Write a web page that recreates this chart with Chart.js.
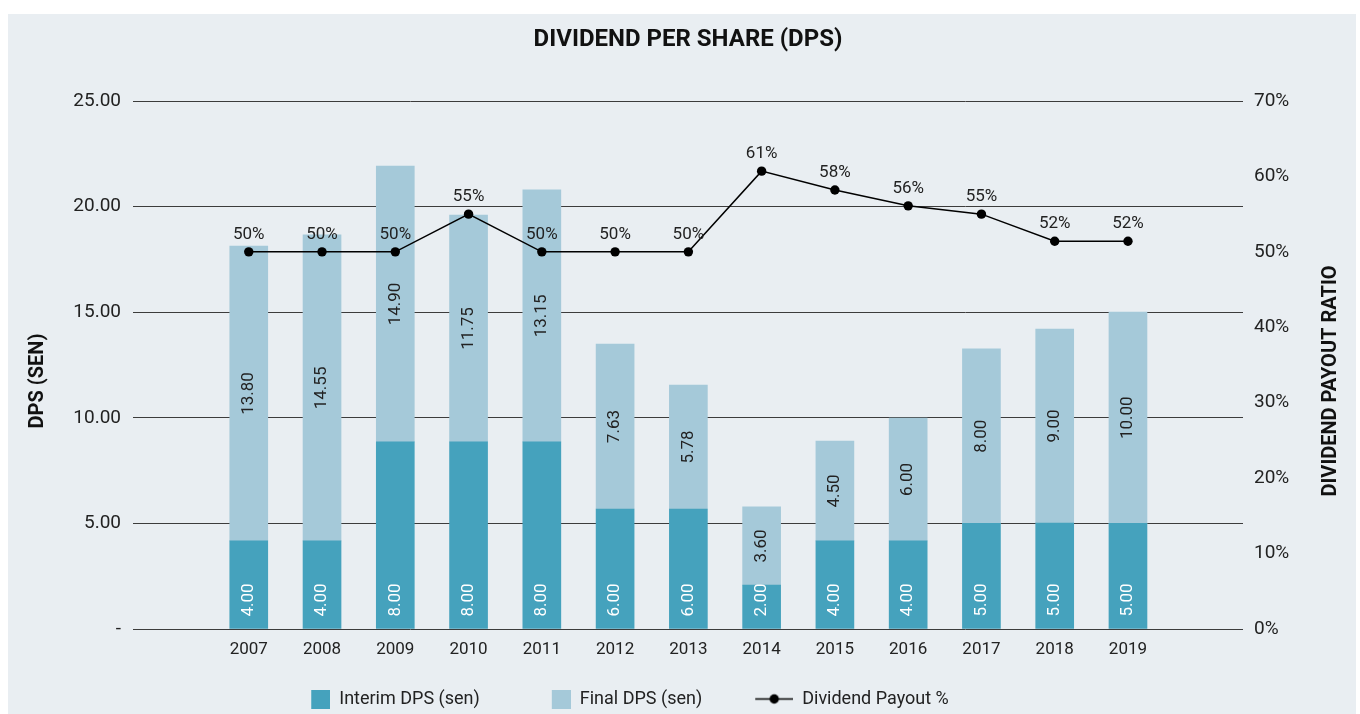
<!DOCTYPE html>
<html>
<head>
<meta charset="utf-8">
<title>Dividend per share (DPS)</title>
<script src="https://cdn.jsdelivr.net/npm/chart.js@4.4.0/dist/chart.umd.min.js"></script>
<style>
  html, body { margin: 0; padding: 0; background: #fff; overflow: hidden; }
  #panel { position: absolute; left: 8px; top: 14px; width: 1348px; height: 700px; background: #e9eef2; }
  #dpsChart { position: absolute; left: 8px; top: 14px; }
</style>
</head>
<body>
<div id="panel"></div>
<canvas id="dpsChart" width="1360" height="704"></canvas>
<script>
// --- Data (bar heights; printed labels kept separately) ---
const years = [2007, 2008, 2009, 2010, 2011, 2012, 2013, 2014, 2015, 2016, 2017, 2018, 2019];
const interimDps = [4.17, 4.17, 8.86, 8.86, 8.86, 5.68, 5.68, 2.08, 4.17, 4.17, 5.0, 5.02, 5.0];
const finalDps = [13.96, 14.49, 13.06, 10.74, 11.93, 7.81, 5.87, 3.70, 4.73, 5.82, 8.26, 9.18, 10.01];
const payoutPct = [50, 50, 50, 55, 50, 50, 50, 60.7, 58.2, 56.1, 55, 51.4, 51.4];

const interimLabels = ['4.00', '4.00', '8.00', '8.00', '8.00', '6.00', '6.00', '2.00', '4.00', '4.00', '5.00', '5.00', '5.00'];
const finalLabels = ['13.80', '14.55', '14.90', '11.75', '13.15', '7.63', '5.78', '3.60', '4.50', '6.00', '8.00', '9.00', '10.00'];
const payoutLabels = ['50%', '50%', '50%', '55%', '50%', '50%', '50%', '61%', '58%', '56%', '55%', '52%', '52%'];

// --- Config ---
const X_MIN = 2005.42;
const X_MAX = 2020.57;
const LEGEND_BOX = 81;      // icon box incl. leading gap
const LEGEND_SHIFT = -89;
const TITLE_DROP = 16;
const COLORS = { interim: '#45a2bd', final: '#a5c9d9', line: '#000', text: '#222' };

Chart.defaults.font.family = 'Roboto, "Open Sans", sans-serif';
Chart.defaults.color = COLORS.text;

// legend icons sit at the right end of a wide box, the rest is the gap before them
function makeSwatch(color) {
  const c = document.createElement('canvas');
  c.width = LEGEND_BOX; c.height = 19;
  const g = c.getContext('2d');
  g.fillStyle = color;
  g.fillRect(LEGEND_BOX - 19, 0, 19, 19);
  return c;
}
function makeLineIcon() {
  const c = document.createElement('canvas');
  c.width = LEGEND_BOX; c.height = 19;
  const g = c.getContext('2d');
  const x0 = LEGEND_BOX - 38;
  g.strokeStyle = COLORS.line; g.lineWidth = 1.5;
  g.beginPath(); g.moveTo(x0, 9.5); g.lineTo(LEGEND_BOX, 9.5); g.stroke();
  g.fillStyle = COLORS.line;
  g.beginPath(); g.arc(x0 + 19, 9.5, 4.7, 0, Math.PI * 2); g.fill();
  return c;
}
const legendIcons = [makeSwatch(COLORS.interim), makeSwatch(COLORS.final), makeLineIcon()];

// --- Plugins ---
const valueLabels = {
  id: 'valueLabels',
  afterDatasetsDraw(chart) {
    const ctx = chart.ctx;
    ctx.save();
    ctx.font = '17px Roboto';
    ctx.textBaseline = 'middle';
    chart.getDatasetMeta(0).data.forEach((bar, i) => {
      ctx.save();
      ctx.translate(bar.x, bar.base - 12);
      ctx.rotate(-Math.PI / 2);
      ctx.fillStyle = '#fff';
      ctx.textAlign = 'left';
      ctx.fillText(interimLabels[i], 0, 0);
      ctx.restore();
    });
    chart.getDatasetMeta(1).data.forEach((bar, i) => {
      ctx.save();
      ctx.translate(bar.x, (bar.y + bar.base) / 2);
      ctx.rotate(-Math.PI / 2);
      ctx.fillStyle = COLORS.text;
      ctx.textAlign = 'center';
      ctx.fillText(finalLabels[i], 0, 0);
      ctx.restore();
    });
    ctx.fillStyle = COLORS.text;
    ctx.textAlign = 'center';
    ctx.textBaseline = 'alphabetic';
    chart.getDatasetMeta(2).data.forEach((pt, i) => {
      ctx.fillText(payoutLabels[i], pt.x, pt.y - 13);
    });
    ctx.restore();
  }
};

// both axis titles read bottom-to-top, slightly below the axis middle
const axisTitles = {
  id: 'axisTitles',
  afterDraw(chart) {
    const { ctx, chartArea, scales } = chart;
    const midY = (chartArea.top + chartArea.bottom) / 2 + TITLE_DROP;
    ctx.save();
    ctx.font = 'bold 20px Roboto';
    ctx.fillStyle = '#111';
    ctx.textAlign = 'center';
    ctx.textBaseline = 'middle';
    [[scales.y.left + 30, 'DPS (SEN)'], [scales.y1.right - 37, 'DIVIDEND PAYOUT RATIO']].forEach(([x, t]) => {
      ctx.save();
      ctx.translate(x, midY);
      ctx.rotate(-Math.PI / 2);
      ctx.fillText(t, 0, 0);
      ctx.restore();
    });
    ctx.restore();
  }
};

const legendShift = {
  id: 'legendShift',
  afterLayout(chart) {
    const lg = chart.legend;
    if (lg) { lg.left += LEGEND_SHIFT; lg.right += LEGEND_SHIFT; }
  }
};

// --- Chart ---
new Chart(document.getElementById('dpsChart'), {
  data: {
    labels: years,
    datasets: [
      { type: 'bar', label: 'Interim DPS (sen)', data: interimDps, backgroundColor: COLORS.interim, yAxisID: 'y', order: 2, barThickness: 38 },
      { type: 'bar', label: 'Final DPS (sen)', data: finalDps, backgroundColor: COLORS.final, yAxisID: 'y', order: 2, barThickness: 38 },
      {
        type: 'line', label: 'Dividend Payout %', data: payoutPct, yAxisID: 'y1', order: 1,
        borderColor: COLORS.line, borderWidth: 1.5, tension: 0,
        pointRadius: 4.7, pointBackgroundColor: COLORS.line, pointBorderWidth: 0
      }
    ]
  },
  options: {
    responsive: false,
    animation: false,
    devicePixelRatio: 1,
    layout: { padding: 0 },
    scales: {
      x: {
        type: 'linear', min: X_MIN, max: X_MAX, offset: false, bounds: 'ticks', stacked: true,
        grid: { display: false, drawTicks: false },
        border: { display: false },
        ticks: {
          autoSkip: false, maxRotation: 0, padding: 11,
          font: { size: 17 }, color: COLORS.text,
          callback: v => String(v)
        },
        afterBuildTicks(s) { s.ticks = years.map(v => ({ value: v })); },
        afterFit(s) { s.height = 51; }
      },
      y: {
        position: 'left', min: 0, max: 25, stacked: true,
        grid: { color: '#3c3c3c', lineWidth: 1, drawTicks: false },
        border: { display: false },
        ticks: { stepSize: 5, padding: 12, font: { size: 19 }, color: COLORS.text, callback: v => v === 0 ? '-' : v.toFixed(2) },
        afterFit(s) { s.width = 125; }
      },
      y1: {
        position: 'right', min: 0, max: 70,
        grid: { display: false, drawTicks: false },
        border: { display: false },
        ticks: { stepSize: 10, padding: 11, font: { size: 19 }, color: COLORS.text, callback: v => v + '%' },
        afterFit(s) { s.width = 125; }
      }
    },
    plugins: {
      title: {
        display: true, text: 'DIVIDEND PER SHARE (DPS)', color: '#111',
        font: { size: 24, weight: 'bold' }, padding: { top: 12, bottom: 46.2 }
      },
      legend: {
        position: 'bottom', align: 'center',
        labels: {
          usePointStyle: true, pointStyleWidth: LEGEND_BOX, boxHeight: 18, padding: 10,
          font: { size: 18 }, color: COLORS.text,
          sort: (a, b) => a.datasetIndex - b.datasetIndex,
          generateLabels: chart => chart.data.datasets.map((ds, i) => ({
            text: ds.label, datasetIndex: i, pointStyle: legendIcons[i],
            hidden: !chart.isDatasetVisible(i), fontColor: COLORS.text,
            fillStyle: 'transparent', strokeStyle: 'transparent', lineWidth: 0
          }))
        }
      },
      tooltip: { enabled: false }
    }
  },
  plugins: [valueLabels, axisTitles, legendShift]
});
</script>
</body>
</html>
